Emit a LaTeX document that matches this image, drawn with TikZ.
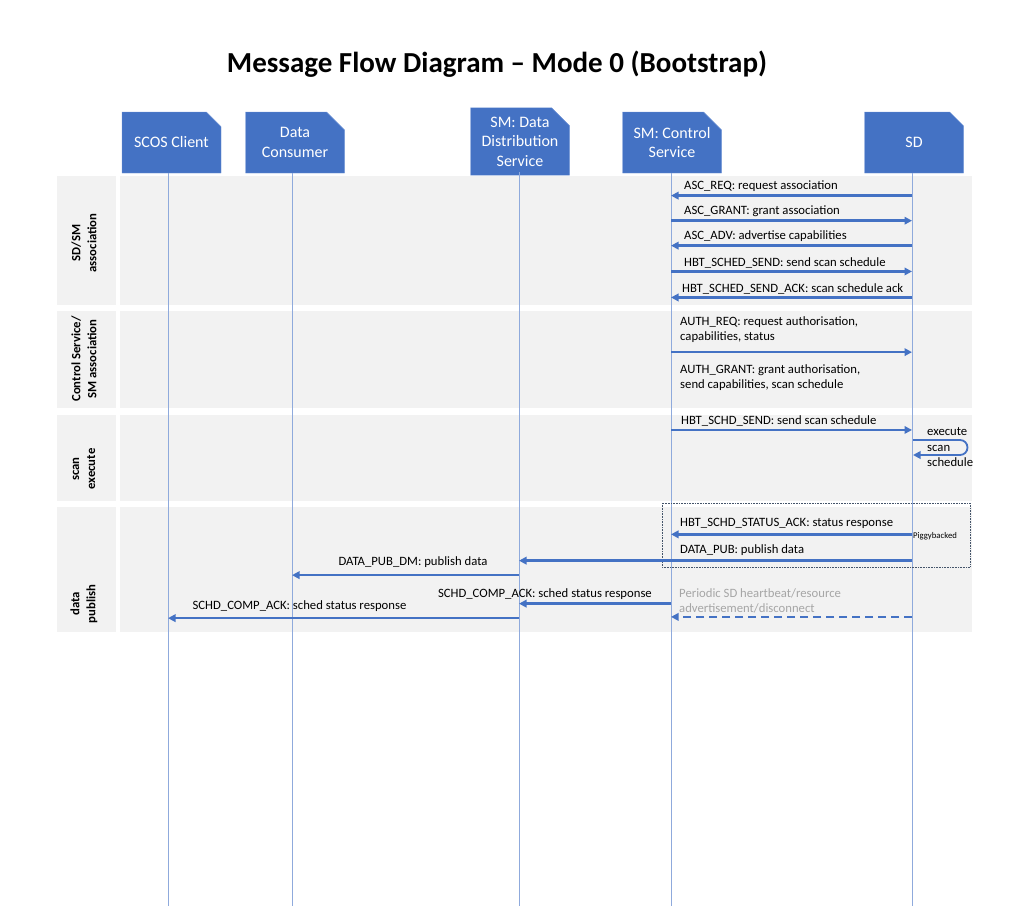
\documentclass[tikz,border=0pt]{standalone}
\usepackage{fontspec}
\setmainfont{Carlito}
\usepackage{xcolor}
\usepackage{tikz}
\usetikzlibrary{positioning}
\usetikzlibrary{arrows.meta,shapes.misc}

\definecolor{hdblue}{HTML}{4472C4}
\definecolor{hdedge}{HTML}{6F93D6}
\definecolor{lifeblue}{HTML}{8FAADC}
\definecolor{bandgray}{HTML}{F2F2F2}
\definecolor{boxedge}{HTML}{44546A}
\definecolor{fadetext}{HTML}{A6A6A6}

\begin{document}
\begin{tikzpicture}[x=1pt, y=-1pt,
  head/.style={chamfered rectangle, chamfered rectangle corners=north east,
    chamfered rectangle xsep=9pt, chamfered rectangle ysep=9pt,
    fill=hdblue, draw=hdedge, minimum width=99pt, minimum height=61pt,
    text=white, align=center, inner sep=0pt, font=\fontsize{16}{19.5}\selectfont},
  msg/.style={font=\fontsize{12.7}{15}\selectfont, inner sep=1pt, outer ysep=2.7pt, align=left, anchor=west},
  msgarrow/.style={draw=hdblue, line width=2.5pt, -{Triangle[length=7.5pt,width=7.5pt]}},
  life/.style={draw=lifeblue, line width=0.8pt},
  band/.style={fill=bandgray},
  tag/.style={rotate=90, align=center, font=\bfseries\fontsize{12.7}{16}\selectfont}]
 \useasboundingbox (0,0) rectangle (1024,910);

 %title
 \node[font=\bfseries\fontsize{29}{34}\selectfont] (tt) at (497,64) {Message Flow Diagram – Mode 0 (Bootstrap)};

 %bands
 \fill[band] (57,176) rectangle (116,305);
 \fill[band] (120,176) rectangle (972,305);
 \fill[band] (57,311) rectangle (116,408);
 \fill[band] (120,311) rectangle (972,408);
 \fill[band] (57,415) rectangle (116,501);
 \fill[band] (120,415) rectangle (972,501);
 \fill[band] (57,507) rectangle (116,632);
 \fill[band] (120,507) rectangle (972,632);

 \node[tag] (g1) at (84,243) {SD/SM\\association};
 \node[tag] (g2) at (84,359) {Control Service/\\SM association};
 \node[tag] (g3) at (84,469) {scan\\execute};
 \node[tag] (g4) at (84,604) {data\\publish};

 %heads
 \node[head] (h1) at (171.5,142.5) {SCOS Client};
 \node[head] (h2) at (295,142.5) {Data\\Consumer};
 \node[head] (h3) at (520,141.5) {SM: Data\\Distribution\\Service};
 \node[head] (h4) at (672,142.5) {SM: Control\\Service};
 \node[head] (h5) at (914,142.5) {SD};

 %lifelines
 \coordinate (t1) at (168,173);
 \coordinate (t2) at (292,173);
 \coordinate (t3) at (519,172);
 \coordinate (t4) at (671,173);
 \coordinate (t5) at (912,173);
 \coordinate (b1) at (168,906);
 \coordinate (b2) at (292,906);
 \coordinate (b3) at (519,906);
 \coordinate (b4) at (671,906);
 \coordinate (b5) at (912,906);
 \path[draw, life] (t1) -- (b1);
 \path[draw, life] (t2) -- (b2);
 \path[draw, life] (t3) -- (b3);
 \path[draw, life] (t4) -- (b4);
 \path[draw, life] (t5) -- (b5);

 %SD/SM association
 \node[msg] (m1) at (683,186.5) {ASC\_REQ: request association};
 \node[msg] (m2) at (683,211.5) {ASC\_GRANT: grant association};
 \node[msg] (m3) at (683,236.5) {ASC\_ADV: advertise capabilities};
 \node[msg] (m4) at (683,262.5) {HBT\_SCHED\_SEND: send scan schedule};
 \node[msg] (m5) at (681,288.5) {HBT\_SCHED\_SEND\_ACK: scan schedule ack};
 \path[draw, msgarrow] (t5 |- m1.south) -- (t4 |- m1.south);
 \path[draw, msgarrow] (t4 |- m2.south) -- (t5 |- m2.south);
 \path[draw, msgarrow] (t5 |- m3.south) -- (t4 |- m3.south);
 \path[draw, msgarrow] (t4 |- m4.south) -- (t5 |- m4.south);
 \path[draw, msgarrow] (t5 |- m5.south) -- (t4 |- m5.south);

 %control service association
 \node[msg] (m6) at (679,329.5) {AUTH\_REQ: request authorisation,\\capabilities, status};
 \node[msg] (m7) at (679,377.5) {AUTH\_GRANT: grant authorisation,\\send capabilities, scan schedule};
 \path[draw, msgarrow] ([yshift=-6pt]t4 |- m6.south) -- ([yshift=-6pt]t5 |- m6.south);

 %scan execute
 \node[msg] (m8) at (680,421) {HBT\_SCHD\_SEND: send scan schedule};
 \path[draw, msgarrow] (t4 |- m8.south) -- (t5 |- m8.south);
 \coordinate (s1) at (913,440);
 \coordinate (s2) at (913,455);
 \path[draw, msgarrow, line width=1.8pt] (s1) -- ++(47,0) arc[start angle=-90, end angle=90, radius=7.5] -- (s2);
 \node[msg, outer ysep=0pt, font=\fontsize{12.7}{15.5}\selectfont] (xt) at (926,447.5) {execute\\scan\\schedule};

 %data publish
 \draw[boxedge, densely dotted, line width=0.6pt] (662,503) rectangle (970,567);
 \node[msg] (m9) at (679,523.5) {HBT\_SCHD\_STATUS\_ACK: status response};
 \node[msg, font=\fontsize{8.7}{10}\selectfont, inner sep=0pt] (pg) at (913,536) {Piggybacked};
 \node[msg] (m10) at (679,550.5) {DATA\_PUB: publish data};
 \node[msg, anchor=center] (m11) at (413,562) {DATA\_PUB\_DM: publish data};
 \node[msg, anchor=east] (m12) at (653,594.5) {SCHD\_COMP\_ACK: sched status response};
 \node[msg, anchor=center] (m13) at (299.5,606) {SCHD\_COMP\_ACK: sched status response};
 \node[msg, text=fadetext] (pd) at (678,601) {Periodic SD heartbeat/resource\\advertisement/disconnect};
 \path[draw, msgarrow] ([yshift=-2pt]t5 |- m9.south) -- ([yshift=-2pt]t4 |- m9.south);
 \path[draw, msgarrow] ([yshift=-1pt]t5 |- m10.south) -- ([yshift=-1pt]t3 |- m10.south);
 \path[draw, msgarrow] ([yshift=-4pt]t3 |- m11.south) -- ([yshift=-4pt]t2 |- m11.south);
 \path[draw, msgarrow] (t4 |- m12.south) -- (t3 |- m12.south);
 \path[draw, msgarrow] ([yshift=-3pt]t3 |- m13.south) -- ([yshift=-3pt]t1 |- m13.south);
 \path[draw, msgarrow, dash pattern=on 8pt off 5pt] (t5 |- pd.south) -- (t4 |- pd.south);

\end{tikzpicture}
\end{document}
